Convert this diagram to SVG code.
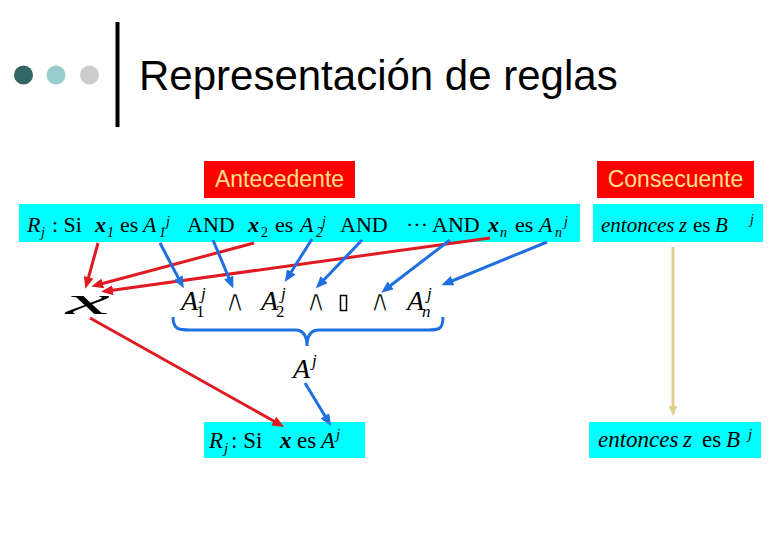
<svg xmlns="http://www.w3.org/2000/svg" width="780" height="540" viewBox="0 0 780 540">
<defs>
<style>
.ser{font-family:"Liberation Serif","Times New Roman",serif;fill:#000}
.it{font-style:italic}
.bi{font-style:italic;font-weight:bold}
.lab{font-family:"Liberation Sans",Arial,sans-serif;font-size:23px;fill:#FFE08A}
.wedge{font-family:"DejaVu Sans",sans-serif;font-size:30px;fill:#000;stroke:#fff;stroke-width:1.2px;text-anchor:middle}
.red{stroke:#E01A22;stroke-width:3;fill:none}
.blue{stroke:#1F6FE0;stroke-width:3;fill:none}
.tan{stroke:#E3CC8F;stroke-width:3;fill:none}
.cyan{fill:#00FFFF}
.tag{fill:#FF0000}
</style>
<marker id="ar" markerUnits="userSpaceOnUse" markerWidth="12" markerHeight="10" refX="6" refY="5" orient="auto"><path d="M0,0 L12,5 L0,10 z" fill="#E01A22"/></marker>
<marker id="ab" markerUnits="userSpaceOnUse" markerWidth="12" markerHeight="10" refX="6" refY="5" orient="auto"><path d="M0,0 L12,5 L0,10 z" fill="#1F6FE0"/></marker>
<marker id="at" markerUnits="userSpaceOnUse" markerWidth="10" markerHeight="9" refX="5" refY="4.5" orient="auto"><path d="M0,0 L10,4.5 L0,9 z" fill="#E3CC8F"/></marker>
</defs>
<rect width="780" height="540" fill="#fff"/>

<g id="title">
<circle cx="23.5" cy="75" r="9.5" fill="#336666"/>
<circle cx="56" cy="75" r="9.5" fill="#99CCCC"/>
<circle cx="89.5" cy="75" r="9.5" fill="#CCCCCC"/>
<rect x="115.5" y="22" width="4" height="105" fill="#000"/>
<text x="139" y="90" font-family="'Liberation Sans',Arial,sans-serif" font-size="42" fill="#000">Representación de reglas</text>
</g>

<g id="antecedente">
<rect class="tag" x="204" y="161" width="151" height="37"/>
<text class="lab" x="279.5" y="187" text-anchor="middle">Antecedente</text>
</g>
<g id="consecuente">
<rect class="tag" x="597" y="161" width="157" height="37"/>
<text class="lab" x="675.5" y="187" text-anchor="middle">Consecuente</text>
</g>

<g id="regla">
<rect class="cyan" x="19" y="204" width="561" height="38"/>
<text class="ser" font-size="22" y="232"><tspan class="it" x="27">R</tspan><tspan class="it" x="41" y="237" font-size="14">j</tspan><tspan x="52" y="232">: Si</tspan><tspan class="bi" x="95">x</tspan><tspan class="it" x="107" y="237" font-size="14">1</tspan><tspan x="120" y="232">es</tspan><tspan class="it" x="143">A</tspan><tspan class="it" x="159" y="237" font-size="14">1</tspan><tspan class="it" x="166" y="226" font-size="14">j</tspan><tspan x="187" y="232">AND</tspan><tspan class="bi" x="248">x</tspan><tspan x="261" y="237" font-size="14">2</tspan><tspan x="275" y="232">es</tspan><tspan class="it" x="300">A</tspan><tspan class="it" x="316" y="237" font-size="14">2</tspan><tspan class="it" x="322" y="226" font-size="14">j</tspan><tspan x="340" y="232">AND</tspan><tspan x="406" y="232">···</tspan><tspan x="432" y="232">AND</tspan><tspan class="bi" x="488">x</tspan><tspan class="it" x="500" y="237" font-size="14">n</tspan><tspan x="515" y="232">es</tspan><tspan class="it" x="539">A</tspan><tspan class="it" x="555" y="237" font-size="14">n</tspan><tspan class="it" x="564" y="226" font-size="14">j</tspan></text>
</g>

<g id="entonces1">
<rect class="cyan" x="593" y="204" width="170" height="38"/>
<text class="ser" font-size="21" y="232"><tspan class="it" x="601">entonces</tspan><tspan class="it" x="679">z</tspan><tspan x="693">es</tspan><tspan class="it" x="715">B</tspan><tspan class="it" x="750" y="224" font-size="14">j</tspan></text>
</g>

<g id="xnode">
<text class="ser it" font-size="38" transform="translate(66,314) scale(2.6,1)">x</text>
</g>

<g id="conjuncion">
<text class="ser" font-size="28" y="310"><tspan class="it" x="181">A</tspan><tspan x="196" y="317" font-size="17">1</tspan><tspan class="it" x="201" y="299" font-size="17">j</tspan><tspan class="it" x="261" y="310">A</tspan><tspan x="276" y="317" font-size="17">2</tspan><tspan class="it" x="281" y="299" font-size="17">j</tspan><tspan class="it" x="407" y="310">A</tspan><tspan class="it" x="422" y="317" font-size="17">n</tspan><tspan class="it" x="427" y="299" font-size="17">j</tspan></text>
<text class="wedge" y="311"><tspan x="235">∧</tspan><tspan x="316">∧</tspan><tspan x="380">∧</tspan></text>
<rect x="340.5" y="295.5" width="6" height="15" fill="none" stroke="#000" stroke-width="1.5"/>
<path class="blue" d="M173,317 C173,330 180,330 190,330 L295,330 C303,330 307,335 307,346 C307,335 311,330 319,330 L428,330 C438,330 443,330 443,317"/>
</g>

<g id="aj">
<text class="ser" font-size="28" y="378"><tspan class="it" x="293">A</tspan><tspan class="it" x="312" y="366" font-size="17">j</tspan></text>
</g>

<g id="regla2">
<rect class="cyan" x="204" y="422" width="161" height="36"/>
<text class="ser" font-size="23" y="448"><tspan class="it" x="209">R</tspan><tspan class="it" x="224" y="453" font-size="15">j</tspan><tspan x="231" y="448">: Si</tspan><tspan class="bi" x="280">x</tspan><tspan x="297">es</tspan><tspan class="it" x="321">A</tspan><tspan class="it" x="336" y="439" font-size="15">j</tspan></text>
</g>

<g id="entonces2">
<rect class="cyan" x="589" y="422" width="172" height="36"/>
<text class="ser" font-size="23" y="447"><tspan class="it" x="598">entonces</tspan><tspan class="it" x="683">z</tspan><tspan x="702">es</tspan><tspan class="it" x="726">B</tspan><tspan class="it" x="748" y="439" font-size="15">j</tspan></text>
</g>

<g id="connectors">
<line class="red" x1="98" y1="243" x2="87" y2="283" marker-end="url(#ar)"/>
<line class="red" x1="254" y1="243" x2="97" y2="285" marker-end="url(#ar)"/>
<line class="red" x1="490" y1="238" x2="107" y2="291" marker-end="url(#ar)"/>
<line class="red" x1="90" y1="318" x2="279" y2="424" marker-end="url(#ar)"/>
<line class="blue" x1="160" y1="243" x2="181" y2="283" marker-end="url(#ab)"/>
<line class="blue" x1="213" y1="240" x2="231" y2="283" marker-end="url(#ab)"/>
<line class="blue" x1="312" y1="239" x2="288" y2="277" marker-end="url(#ab)"/>
<line class="blue" x1="362" y1="240" x2="320" y2="284" marker-end="url(#ab)"/>
<line class="blue" x1="450" y1="240" x2="386" y2="289" marker-end="url(#ab)"/>
<line class="blue" x1="547" y1="242" x2="447" y2="283" marker-end="url(#ab)"/>
<line class="blue" x1="305" y1="383" x2="328" y2="421" marker-end="url(#ab)"/>
<line class="tan" x1="673" y1="247" x2="673" y2="411" marker-end="url(#at)"/>
</g>
</svg>
